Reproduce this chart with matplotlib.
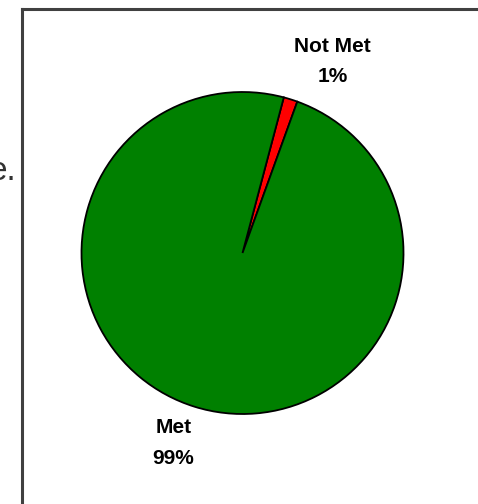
import matplotlib.pyplot as plt
from matplotlib.lines import Line2D

# --- Data ---
labels = ["Not Met", "Met"]
values = [1.4, 98.6]
pct_labels = ["1%", "99%"]
colors = ["#FF0000", "#008000"]

W, H = 478, 504
fig = plt.figure(figsize=(W / 100, H / 100), dpi=100)
plt.rcParams['font.family'] = ['Liberation Sans', 'DejaVu Sans']

# Frame of the chart box: only the left and top sides are in view
frame_x, frame_y = 22 / W, 1 - 8.5 / H
fig.lines.append(Line2D([frame_x, frame_x], [0, frame_y], transform=fig.transFigure,
                        color="#404040", linewidth=2.2, solid_capstyle="projecting"))
fig.lines.append(Line2D([frame_x, 1], [frame_y, frame_y], transform=fig.transFigure,
                        color="#404040", linewidth=2.2, solid_capstyle="projecting"))

# Leftover slide text next to the box
fig.text(16 / W, 1 - 180 / H, "e.", ha="right", va="baseline",
         fontsize=24, color="#333333")

# Pie axes: centre (242, 253) px, radius 161 px
cx, cy, r = 242.5, 253, 161
ax = fig.add_axes([(cx - r) / W, (H - cy - r) / H, 2 * r / W, 2 * r / H])
ax.pie(values, colors=colors, startangle=70.1, counterclock=True,
       wedgeprops=dict(edgecolor="black", linewidth=1.3))
ax.set_xlim(-1, 1)
ax.set_ylim(-1, 1)
ax.set_axis_off()

# Data labels (positions in pie radius units)
label_pos = [(0.56, 1.19), (-0.43, -1.18)]
for name, pct, (x, y) in zip(labels, pct_labels, label_pos):
    ax.text(x, y, f"{name}\n{pct}", ha="center", va="center",
            fontsize=15, fontweight="bold", linespacing=1.75,
            clip_on=False)

fig.savefig("out.png", dpi=100)
